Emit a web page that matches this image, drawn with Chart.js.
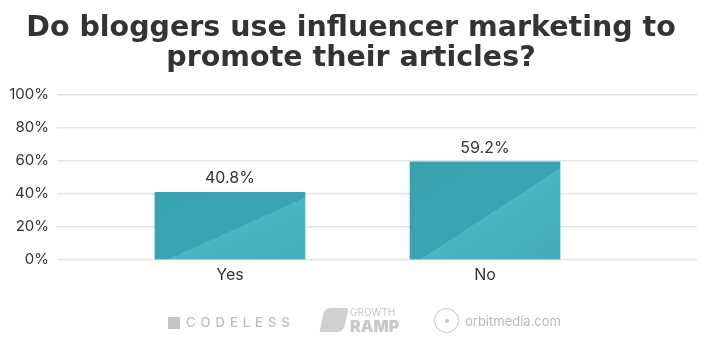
<!DOCTYPE html>
<html>
<head>
<meta charset="utf-8">
<script src="https://cdn.jsdelivr.net/npm/chart.js@4.4.1/dist/chart.umd.min.js"></script>
<style>
  html,body{margin:0;padding:0;background:#fff;}
  #wrap{position:relative;width:710px;height:355px;}
  #logos{position:absolute;left:0;top:306px;width:710px;height:36px;font-family:Inter,"Open Sans",sans-serif;color:#bdbdbd;}
  .lg{position:absolute;white-space:nowrap;}
</style>
</head>
<body>
<div id="wrap">
<canvas id="c" width="710" height="355"></canvas>
<div id="logos">
  <div class="lg" style="left:168px;top:11px;width:12px;height:12px;background:#c4c4c4;"></div>
  <div class="lg" style="left:186px;top:8px;font-size:13px;letter-spacing:5px;font-weight:500;">CODELESS</div>
  <div class="lg" style="left:322px;top:2px;width:24px;height:24px;border-radius:6px 2px 6px 2px;background:#d0d0d0;transform:skewX(-12deg);"></div>
  <div class="lg" style="left:350px;top:0px;font-size:10px;letter-spacing:0px;color:#c8c8c8;">GROWTH</div>
  <div class="lg" style="left:350px;top:10px;font-size:16px;font-weight:900;color:#c8c8c8;">RAMP</div>
  <div class="lg" style="left:434px;top:2px;width:25px;height:25px;border:1.5px solid #c4c4c4;border-radius:50%;box-sizing:border-box;"></div>
  <div class="lg" style="left:444.5px;top:12.5px;width:4px;height:4px;background:#c4c4c4;border-radius:50%;"></div>
  <div class="lg" style="left:465px;top:7px;font-size:13px;color:#b8b8b8;">orbitmedia.com</div>
</div>
</div>
<script>
const titleLines = ['Do bloggers use influencer marketing to', 'promote their articles?'];
const categories = ['Yes', 'No'];
const values = [40.8, 59.2];
const yTicks = [0, 20, 40, 60, 80, 100];

function barFill(ctx) {
  const chart = ctx.chart;
  const fallback = '#3ea9b5';
  if (!chart.chartArea || ctx.type !== 'data') return fallback;
  const xs = chart.scales.x, ys = chart.scales.y;
  const i = ctx.dataIndex;
  const xc = xs.getPixelForValue(i);
  const w = 150;
  const x0 = xc - w / 2, x1 = xc + w / 2;
  const yt = ys.getPixelForValue(values[i]);
  const yb = ys.getPixelForValue(0);
  const h = yb - yt;
  const mx = (x0 + x1) / 2, my = (yt + yb) / 2;
  const L = Math.hypot(w, h);
  const px = h / L, py = w / L;
  const k = L / 2;
  const g = chart.ctx.createLinearGradient(mx - px * k, my - py * k, mx + px * k, my + py * k);
  g.addColorStop(0, '#38a2af');
  g.addColorStop(0.53, '#3aa5b2');
  g.addColorStop(0.53, '#49b6c1');
  g.addColorStop(1, '#40aab6');
  return g;
}

const labelPlugin = {
  id: 'valueLabels',
  afterDatasetsDraw(chart) {
    const c = chart.ctx;
    const meta = chart.getDatasetMeta(0);
    c.save();
    c.fillStyle = '#333';
    c.font = '16px Inter, "Open Sans", sans-serif';
    c.textAlign = 'center';
    c.textBaseline = 'bottom';
    meta.data.forEach((el, i) => {
      c.fillText(values[i].toFixed(1) + '%', el.x, el.y - 6);
    });
    c.restore();
  }
};

new Chart(document.getElementById('c'), {
  type: 'bar',
  data: {
    datasets: [{
      data: values.map((v, i) => ({ x: i, y: v })),
      backgroundColor: barFill,
      borderWidth: 0,
      barThickness: 150
    }]
  },
  options: {
    responsive: false,
    animation: false,
    devicePixelRatio: 1,
    layout: { padding: { left: 5, right: 13, top: 0, bottom: 64 } },
    plugins: {
      legend: { display: false },
      tooltip: { enabled: false },
      title: {
        display: true,
        text: titleLines,
        color: '#333',
        font: { family: '"DejaVu Sans", sans-serif', size: 28.5, weight: 'bold', lineHeight: 1.06 },
        padding: { top: 13, bottom: 21 }
      }
    },
    scales: {
      x: {
        type: 'linear',
        offset: false,
        min: -0.678,
        max: 1.831,
        grid: { display: false, drawTicks: false },
        border: { display: false },
        ticks: {
          stepSize: 1,
          includeBounds: false,
          autoSkip: false,
          maxRotation: 0,
          color: '#333',
          font: { family: 'Inter, "Open Sans", sans-serif', size: 16 },
          padding: 6,
          callback: (v) => (Number.isInteger(v) && categories[v] !== undefined) ? categories[v] : ''
        }
      },
      y: {
        min: 0,
        max: 100,
        afterFit: (s) => { s.width = 52; },
        afterBuildTicks: (s) => { s.ticks = yTicks.map(v => ({ value: v })); },
        grid: { color: '#e4e4e4', lineWidth: 1.5, drawTicks: false },
        border: { display: false },
        ticks: {
          color: '#333',
          padding: 8,
          font: { family: 'Inter, "Open Sans", sans-serif', size: 15 },
          callback: (v) => v + '%'
        }
      }
    }
  },
  plugins: [labelPlugin]
});
</script>
</body>
</html>
